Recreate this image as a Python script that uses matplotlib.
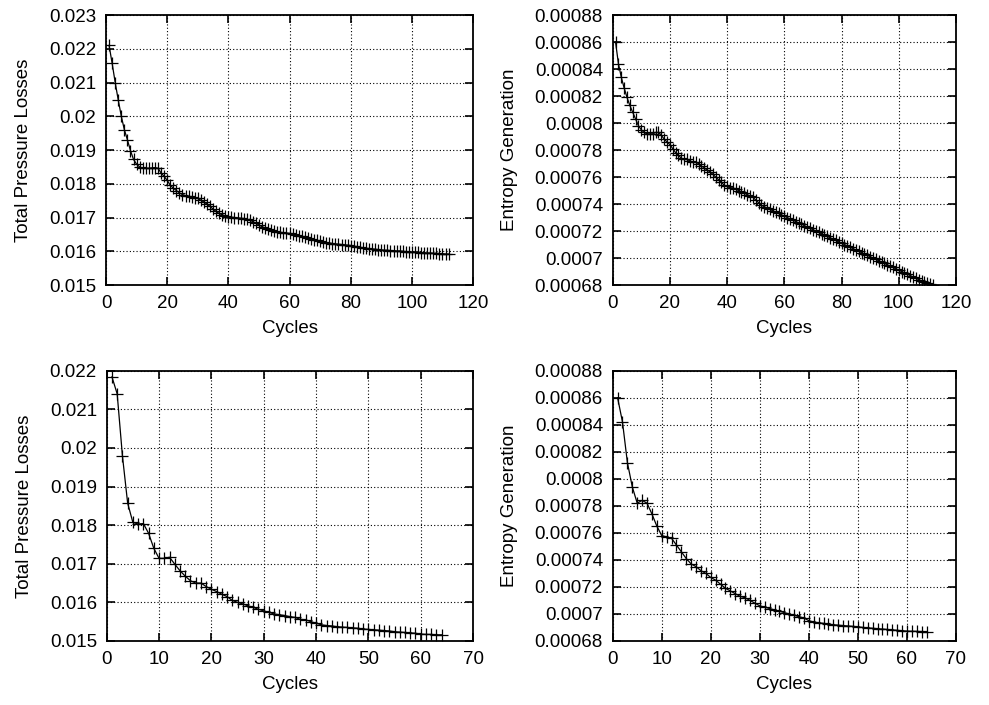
import matplotlib
matplotlib.use('Agg')
import matplotlib.pyplot as plt
import numpy as np
from matplotlib.ticker import FormatStrFormatter

plt.rcParams['font.family'] = ['Liberation Sans', 'DejaVu Sans']
plt.rcParams['font.size'] = 13.5

# top-left: total pressure losses, long run (cycles 1..112)
tpl_long = [
    0.02210, 0.02157, 0.02100, 0.02048, 0.02000, 0.01960, 0.01930, 0.01898, 0.01872, 0.01858,
    0.01850, 0.01846, 0.01846, 0.01846, 0.01847, 0.01848, 0.01846, 0.01832, 0.01822, 0.01810,
    0.01796, 0.01787, 0.01780, 0.01773, 0.01768, 0.01765, 0.01763, 0.01761, 0.01759, 0.01757,
    0.01751, 0.01746, 0.01740, 0.01733, 0.01725, 0.01718, 0.01712, 0.01708, 0.01705, 0.01703,
    0.01701, 0.01700, 0.01699, 0.01698, 0.01697, 0.01695, 0.01692, 0.01688, 0.01683, 0.01678,
    0.01673, 0.01669, 0.01665, 0.01662, 0.01660, 0.01658, 0.01656, 0.01655, 0.01654, 0.01653,
    0.01651, 0.01649, 0.01646, 0.01644, 0.01641, 0.01638, 0.01636, 0.01634, 0.01632, 0.01630,
    0.01628, 0.01626, 0.01625, 0.01623, 0.01622, 0.01621, 0.01620, 0.01619, 0.01618, 0.01617,
    0.01615, 0.01614, 0.01612, 0.01610, 0.01609, 0.01608, 0.01607, 0.01606, 0.01605, 0.01604,
    0.01603, 0.01603, 0.01602, 0.01602, 0.01601, 0.01601, 0.01600, 0.01599, 0.01599, 0.01598,
    0.01598, 0.01597, 0.01596, 0.01596, 0.01595, 0.01595, 0.01594, 0.01594, 0.01593, 0.01593,
    0.01592, 0.01592,
]

# top-right: entropy generation, long run
ent_long = [
    0.000860, 0.000844, 0.000834, 0.000826, 0.000819, 0.000813, 0.000808, 0.000803, 0.000798, 0.000795,
    0.000793, 0.000792, 0.000792, 0.000792, 0.000793, 0.000793, 0.000791, 0.000788, 0.000786, 0.000784,
    0.000781, 0.000778, 0.000776, 0.000774, 0.000773, 0.000773, 0.000772, 0.000771, 0.000771, 0.000770,
    0.000768, 0.000767, 0.000765, 0.000764, 0.000762, 0.000760, 0.000758, 0.000756, 0.000754, 0.000753,
    0.000752, 0.000752, 0.000751, 0.000750, 0.000749, 0.000748, 0.000747, 0.000746, 0.000745, 0.000743,
    0.000741, 0.000739, 0.000738, 0.000737, 0.000736, 0.000735, 0.000734, 0.000733, 0.000732, 0.000731,
    0.000730, 0.000729, 0.000728, 0.000727, 0.000726, 0.000725, 0.000724, 0.000723, 0.000722, 0.000721,
    0.000720, 0.000719, 0.000718, 0.000717, 0.000716, 0.000715, 0.000714, 0.000713, 0.000712, 0.000711,
    0.000710, 0.000709, 0.000708, 0.000707, 0.000706, 0.000705, 0.000704, 0.000703, 0.000702, 0.000701,
    0.000700, 0.000699, 0.000698, 0.000697, 0.000696, 0.000695, 0.000694, 0.000693, 0.000692, 0.000691,
    0.000690, 0.000689, 0.000688, 0.000687, 0.000686, 0.000685, 0.000684, 0.000683, 0.000682, 0.0006815,
    0.000681, 0.000680,
]

# bottom-left: total pressure losses, short run (cycles 1..64)
tpl_short = [
    0.02184, 0.02140, 0.01980, 0.01857, 0.01807, 0.01803, 0.01804, 0.01779, 0.01740, 0.01714,
    0.01714, 0.01717, 0.01699, 0.01682, 0.01668, 0.01656, 0.01650, 0.01650, 0.01641, 0.01634,
    0.01628, 0.01621, 0.01615, 0.01605, 0.01600, 0.01596, 0.01591, 0.01587, 0.01582, 0.01578,
    0.01574, 0.01570, 0.01568, 0.01566, 0.01563, 0.01561, 0.01556, 0.01555, 0.01550, 0.01546,
    0.01542, 0.01540, 0.01539, 0.01537, 0.01536, 0.01535, 0.01534, 0.01533, 0.01531, 0.01530,
    0.01529, 0.01528, 0.01527, 0.01526, 0.01524, 0.01523, 0.01522, 0.01521, 0.01520, 0.01518,
    0.01517, 0.01517, 0.01516, 0.01516,
]

# bottom-right: entropy generation, short run
ent_short = [
    0.000860, 0.000842, 0.000812, 0.000794, 0.000782, 0.000784, 0.000782, 0.000774, 0.000765, 0.000758,
    0.000757, 0.000756, 0.000751, 0.000746, 0.000741, 0.000737, 0.000735, 0.000732, 0.000730, 0.000727,
    0.000725, 0.000722, 0.000719, 0.000717, 0.000715, 0.000713, 0.000712, 0.000710, 0.000708, 0.000706,
    0.000705, 0.000704, 0.000703, 0.000702, 0.000701, 0.000700, 0.000699, 0.000698, 0.000697, 0.000695,
    0.000694, 0.0006935, 0.000693, 0.0006925, 0.000692, 0.0006917, 0.0006914, 0.0006911, 0.0006908, 0.0006905,
    0.000690, 0.0006897, 0.0006894, 0.0006891, 0.0006888, 0.0006885, 0.0006882, 0.0006879, 0.0006876, 0.0006873,
    0.0006872, 0.0006871, 0.000687, 0.000687,
]

panels = [
    # (values, ylabel, xmax, xstep, ymin, ymax, ystep, rect)
    (tpl_long, 'Total Pressure Losses', 120, 20, 0.015, 0.023, 0.001, [0.1072, 0.5957, 0.3711, 0.3830]),
    (ent_long, 'Entropy Generation', 120, 20, 0.00068, 0.00088, 0.00002, [0.6195, 0.5957, 0.3471, 0.3830]),
    (tpl_short, 'Total Pressure Losses', 70, 10, 0.015, 0.022, 0.001, [0.1079, 0.0908, 0.3704, 0.3834]),
    (ent_short, 'Entropy Generation', 70, 10, 0.00068, 0.00088, 0.00002, [0.6195, 0.0908, 0.3471, 0.3834]),
]

fig = plt.figure(figsize=(9.89, 7.05), dpi=100)

for vals, ylabel, xmax, xstep, ymin, ymax, ystep, rect in panels:
    ax = fig.add_axes(rect)
    cycles = np.arange(1, len(vals) + 1)
    ax.plot(cycles, vals, color='black', linewidth=0.9, marker='+',
            markersize=8, markeredgewidth=0.9)
    ax.set_xlim(0, xmax)
    ax.set_ylim(ymin, ymax)
    ax.set_xticks(np.arange(0, xmax + xstep / 2, xstep))
    ax.set_yticks(np.arange(ymin, ymax + ystep / 2, ystep))
    ax.yaxis.set_major_formatter(FormatStrFormatter('%g'))
    ax.xaxis.set_major_formatter(FormatStrFormatter('%g'))
    ax.tick_params(direction='in', length=6, width=1.2, top=True, right=True, pad=7)
    ax.grid(True, color='black', linestyle=(0, (1, 2)), linewidth=0.8)
    for s in ax.spines.values():
        s.set_linewidth(1.3)
    ax.set_xlabel('Cycles', labelpad=6)
    ax.set_ylabel(ylabel, labelpad=12)

plt.savefig('out.png', dpi=100)
